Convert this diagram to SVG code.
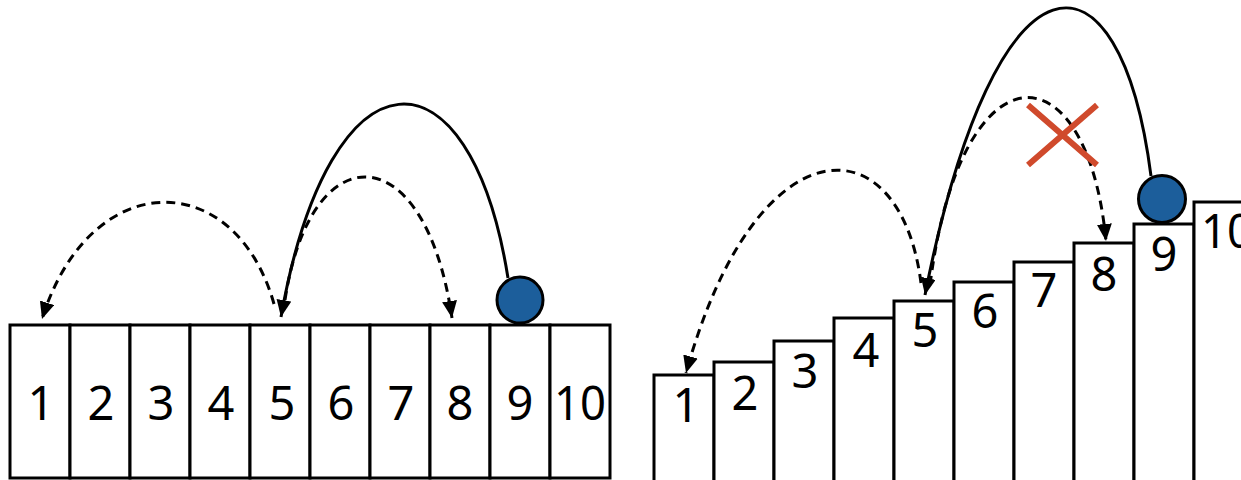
<svg xmlns="http://www.w3.org/2000/svg" width="1241" height="480" viewBox="0 0 1241 480">
<style>
.cell{fill:#fff;stroke:#000;stroke-width:3}
.num{font-family:"Noto Sans","DejaVu Sans",sans-serif;font-size:47px;fill:#000;text-anchor:middle}
.ball{fill:#1c5e9b;stroke:#000;stroke-width:3}
.arc{fill:none;stroke:#000;stroke-width:3}
.dash{stroke-dasharray:9 6}
.x{stroke:#d04a2c;stroke-width:6;fill:none}
</style>
<defs>
<marker id="ah" markerUnits="userSpaceOnUse" markerWidth="22" markerHeight="22" refX="17" refY="7.5" orient="auto">
<path d="M0,0 L17,7.5 L0,15 Z" fill="#000"/>
</marker>
</defs>
<rect width="1241" height="480" fill="#fff"/>
<g id="left-row">
<g id="L1"><rect class="cell" x="10" y="325" width="60" height="153"/><text class="num" x="41" y="420">1</text></g>
<g id="L2"><rect class="cell" x="70" y="325" width="60" height="153"/><text class="num" x="101" y="420">2</text></g>
<g id="L3"><rect class="cell" x="130" y="325" width="60" height="153"/><text class="num" x="161" y="420">3</text></g>
<g id="L4"><rect class="cell" x="190" y="325" width="60" height="153"/><text class="num" x="221" y="420">4</text></g>
<g id="L5"><rect class="cell" x="250" y="325" width="60" height="153"/><text class="num" x="282" y="420">5</text></g>
<g id="L6"><rect class="cell" x="310" y="325" width="60" height="153"/><text class="num" x="341" y="420">6</text></g>
<g id="L7"><rect class="cell" x="370" y="325" width="60" height="153"/><text class="num" x="401" y="420">7</text></g>
<g id="L8"><rect class="cell" x="430" y="325" width="60" height="153"/><text class="num" x="460" y="420">8</text></g>
<g id="L9"><rect class="cell" x="490" y="325" width="60" height="153"/><text class="num" x="520" y="420">9</text></g>
<g id="L10"><rect class="cell" x="550" y="325" width="60" height="153"/><text class="num" x="580" y="420" textLength="52" lengthAdjust="spacingAndGlyphs">10</text></g>
</g>
<g id="left-ball"><circle class="ball" cx="520" cy="300" r="23"/></g>
<g id="right-stairs">
<g id="R1"><rect class="cell" x="654" y="375" width="60" height="110"/><text class="num" x="686" y="422">1</text></g>
<g id="R2"><rect class="cell" x="714" y="362" width="60" height="123"/><text class="num" x="745" y="410">2</text></g>
<g id="R3"><rect class="cell" x="774" y="341" width="60" height="144"/><text class="num" x="805" y="388">3</text></g>
<g id="R4"><rect class="cell" x="834" y="318" width="60" height="167"/><text class="num" x="866" y="367">4</text></g>
<g id="R5"><rect class="cell" x="894" y="301" width="60" height="184"/><text class="num" x="925" y="347">5</text></g>
<g id="R6"><rect class="cell" x="954" y="282" width="60" height="203"/><text class="num" x="985" y="328">6</text></g>
<g id="R7"><rect class="cell" x="1014" y="262" width="60" height="223"/><text class="num" x="1044" y="307">7</text></g>
<g id="R8"><rect class="cell" x="1074" y="243" width="60" height="242"/><text class="num" x="1104" y="291">8</text></g>
<g id="R9"><rect class="cell" x="1134" y="224" width="60" height="261"/><text class="num" x="1164" y="271">9</text></g>
<g id="R10"><rect class="cell" x="1194" y="202" width="60" height="283"/><text class="num" x="1227" y="248" textLength="52" lengthAdjust="spacingAndGlyphs">10</text></g>
</g>
<g id="right-ball"><circle class="ball" cx="1162" cy="199" r="23.5"/></g>
<g id="connectors">
<path class="arc" d="M508,278 C470,40 330,40 281,317" marker-end="url(#ah)"/>
<path class="arc dash" d="M285,300 C310,133 425,133 452,318" marker-end="url(#ah)"/>
<path class="arc dash" d="M274,304 C235,166 90,166 42,319" marker-end="url(#ah)"/>
<path class="arc" d="M1151,176 C1120,-65 996,-65 925,295" marker-end="url(#ah)"/>
<path class="arc dash" d="M930,285 C960,43 1087,43 1106,241" marker-end="url(#ah)"/>
<path class="arc dash" d="M921,283 C900,120 756,120 686,373" marker-end="url(#ah)"/>
</g>
<g id="cross">
<path class="x" d="M1028,105 L1097,165 M1097,105 L1028,165"/>
</g>
</svg>
